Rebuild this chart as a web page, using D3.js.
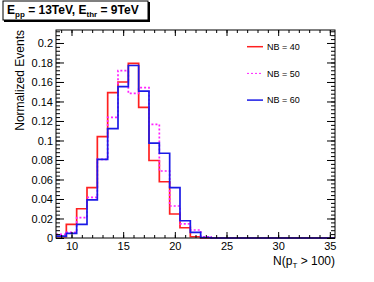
<!DOCTYPE html>
<html>
<head>
<meta charset="utf-8">
<script src="https://cdn.jsdelivr.net/npm/d3@7"></script>
<style>
  body { margin: 0; background: #fff; }
  svg { display: block; font-family: "Liberation Sans", Arial, sans-serif; }
</style>
</head>
<body>
<div class="chart"></div>
<script>
// bin centres (width 1, edges at half integers)
var bins = d3.range(9, 36);

// normalized event fractions, bins 9..35
var nb40 = [0.0013, 0.014, 0.030, 0.0516, 0.104, 0.149, 0.160, 0.179, 0.134, 0.0795,
            0.0577, 0.0246, 0.0105, 0.0013, 0, 0, 0, 0, 0, 0, 0, 0, 0, 0, 0, 0, 0];
var nb50 = [0.0038, 0.0058, 0.0208, 0.0417, 0.0807, 0.1238, 0.1716, 0.1484, 0.1542, 0.1166,
            0.0687, 0.0328, 0.0144, 0.0082, 0.0013, 0, 0, 0, 0, 0, 0, 0, 0, 0, 0, 0, 0];
var nb60 = [0.002, 0.0048, 0.014, 0.039, 0.0807, 0.1121, 0.1552, 0.1769, 0.1506, 0.0972,
            0.0869, 0.0516, 0.0177, 0.0058, 0.0005, 0, 0, 0, 0, 0, 0, 0, 0, 0, 0, 0, 0];

var seriesNames = ["NB = 40", "NB = 50", "NB = 60"];
var xTicks = [10, 15, 20, 25, 30, 35];
var yTicks = [0, 0.02, 0.04, 0.06, 0.08, 0.1, 0.12, 0.14, 0.16, 0.18, 0.2];

var svgWidth = 374, svgHeight = 282;
var frame = {left: 56, right: 335, top: 30, bottom: 238};

var svg = d3.select(".chart").append("svg")
    .attr("width", svgWidth)
    .attr("height", svgHeight);

var x = d3.scaleLinear().domain([8.5, 35.5]).range([frame.left, frame.right]);
var y = d3.scaleLinear().domain([0, 0.2133]).range([frame.bottom, frame.top]);

// histogram outlines
var line = d3.line().x(d => x(d[0])).y(d => y(d[1]));
function steps(vals) {
    var pts = [];
    bins.forEach(function(c, i) {
        pts.push([c - 0.5, vals[i]]);
        pts.push([c + 0.5, vals[i]]);
    });
    return pts;
}

var series = [
    {name: seriesNames[0], vals: nb40, color: "#ff2020", dash: null},
    {name: seriesNames[1], vals: nb50, color: "#ff20ff", dash: "2,2"},
    {name: seriesNames[2], vals: nb60, color: "#1a1ae6", dash: null}
];

svg.append("g").selectAll("path")
    .data(series)
    .enter()
    .append("path")
    .attr("d", d => line(steps(d.vals)))
    .attr("fill", "none")
    .attr("stroke", d => d.color)
    .attr("stroke-width", 1.7)
    .attr("stroke-dasharray", d => d.dash);

// axes, ticks pointing inwards, mirrored on top and right
var fmt = d => String(+d.toFixed(2));
var xMinor = d3.range(9, 36);
var yMinor = d3.range(0, 0.2131, 0.004);

function ax(gen, tr) {
    var g = svg.append("g").attr("transform", tr).call(gen);
    g.select(".domain").remove();
    g.selectAll("text").style("font-size", "11px").attr("fill", "#000");
    return g;
}

ax(d3.axisBottom(x).tickValues(xMinor).tickSize(-3).tickFormat(""), `translate(0,${frame.bottom})`);
ax(d3.axisBottom(x).tickValues(xTicks).tickSize(-6).tickPadding(4).tickFormat(fmt), `translate(0,${frame.bottom})`);
ax(d3.axisTop(x).tickValues(xMinor).tickSize(-3).tickFormat(""), `translate(0,${frame.top})`);
ax(d3.axisTop(x).tickValues(xTicks).tickSize(-6).tickFormat(""), `translate(0,${frame.top})`);

ax(d3.axisLeft(y).tickValues(yMinor).tickSize(-4).tickFormat(""), `translate(${frame.left},0)`);
ax(d3.axisLeft(y).tickValues(yTicks).tickSize(-8).tickPadding(3).tickFormat(fmt), `translate(${frame.left},0)`);
ax(d3.axisRight(y).tickValues(yMinor).tickSize(-4).tickFormat(""), `translate(${frame.right},0)`);
ax(d3.axisRight(y).tickValues(yTicks).tickSize(-8).tickFormat(""), `translate(${frame.right},0)`);

svg.append("rect")
    .attr("x", frame.left).attr("y", frame.top)
    .attr("width", frame.right - frame.left)
    .attr("height", frame.bottom - frame.top)
    .attr("fill", "none").attr("stroke", "#000").attr("stroke-width", 1);

// axis titles
svg.append("text")
    .attr("transform", `translate(24,${frame.top}) rotate(-90)`)
    .attr("text-anchor", "end")
    .style("font-size", "12px")
    .text("Normalized Events");

var xt = svg.append("text")
    .attr("x", frame.right).attr("y", 265)
    .attr("text-anchor", "end")
    .style("font-size", "12px");
xt.append("tspan").text("N(p");
xt.append("tspan").attr("dy", 3).style("font-size", "8px").text("T");
xt.append("tspan").attr("dy", -3).text(" > 100)");

// legend
var leg = svg.append("g").selectAll("g")
    .data(series)
    .enter()
    .append("g")
    .attr("transform", (d, i) => `translate(247,${46.7 + i * 26.7})`);
leg.append("line")
    .attr("x1", 0).attr("x2", 16)
    .attr("stroke", d => d.color)
    .attr("stroke-width", d => d.dash ? 1 : 1.5)
    .attr("stroke-dasharray", d => d.dash);
leg.append("text")
    .attr("x", 20).attr("y", 3.3)
    .style("font-size", "9px")
    .text(d => d.name);

// title box
svg.append("rect")
    .attr("x", 4).attr("y", 2).attr("width", 146).attr("height", 20)
    .attr("fill", "#000");
svg.append("rect")
    .attr("x", 3).attr("y", 1).attr("width", 145).attr("height", 19)
    .attr("fill", "#fff").attr("stroke", "#000").attr("stroke-width", 1);
var tt = svg.append("text")
    .attr("x", 7).attr("y", 14)
    .style("font-size", "12px").style("font-weight", "bold");
tt.append("tspan").text("E");
tt.append("tspan").attr("dy", 3).style("font-size", "8px").text("pp");
tt.append("tspan").attr("dy", -3).text(" = 13TeV, E");
tt.append("tspan").attr("dy", 3).style("font-size", "8px").text("thr");
tt.append("tspan").attr("dy", -3).text(" = 9TeV");
</script>
</body>
</html>
